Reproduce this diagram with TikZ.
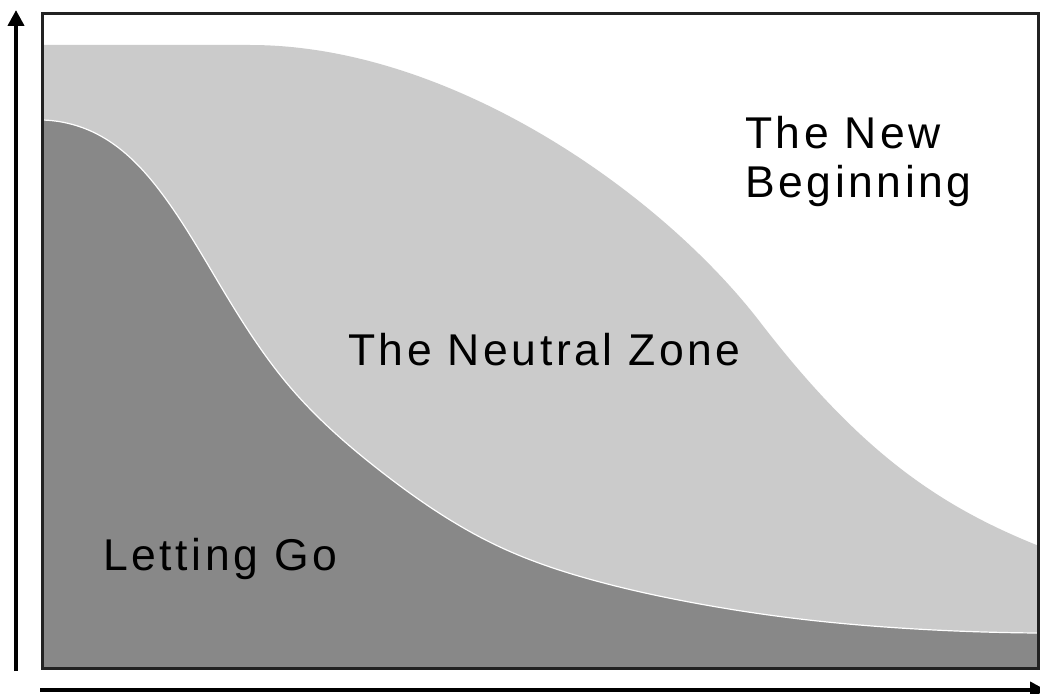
\documentclass[tikz,border=0pt]{standalone}
\usepackage{fontspec}
\setmainfont{Liberation Sans}[LetterSpace=8]
\usetikzlibrary{arrows.meta,hobby}
\definecolor{zonelight}{HTML}{CBCBCB}
\definecolor{zonedark}{HTML}{888888}
\definecolor{framec}{HTML}{222222}
\tikzset{
  axis/.style={line width=4pt, -{Triangle[length=16pt,width=16pt]}},
  lbl/.style={anchor=base west, inner sep=0pt, font=\fontsize{44.5}{49}\selectfont, align=left},
  framebox/.style={draw=framec, line width=3pt}
}
\begin{document}
\begin{tikzpicture}[x=1pt,y=-1pt]
\clip (0,0) rectangle (1040,693);
\fill[white] (0,0) rectangle (1040,693);
% light region (The Neutral Zone)
\fill[zonelight] (42,45) -- (250,45)
  .. controls (450,45) and (660,192) .. (760,322)
  .. controls (860,452) and (939,506) .. (1039,546)
  -- (1039,668) -- (42,668) -- cycle;
% dark region (Letting Go)
\fill[zonedark] (42,668) -- (42,120) to[curve through={(97,134) (163,195) (217,280) (290,387) (383,473) (500,547) (600,582) (700,604) (800,619) (900,628)}] (1039,633)
  -- (1039,668) -- cycle;
\draw[white, line width=1.2pt] (42,120) to[curve through={(97,134) (163,195) (217,280) (290,387) (383,473) (500,547) (600,582) (700,604) (800,619) (900,628)}] (1039,633);
% frame
\draw[framebox] (42,14) rectangle (1038,668);
% axes
\coordinate (yorig) at (16,671);
\coordinate (ytip) at (16,10);
\coordinate (xorig) at (40,690);
\coordinate (xtip) at (1046,690);
\draw[axis] (yorig) -- (ytip);
\draw[axis] (xorig) -- (xtip);
% labels
\node[lbl] (newb) at (745,197) {The New\\Beginning};
\node[lbl] (neutral) at (348,365) {The Neutral Zone};
\node[lbl] (letgo) at (103,570) {Letting Go};
\end{tikzpicture}
\end{document}
